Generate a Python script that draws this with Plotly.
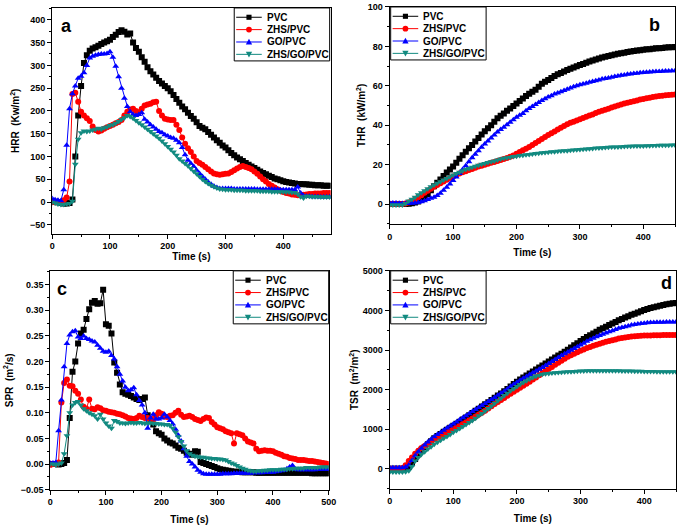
import plotly.graph_objects as go

# ---------------- data ----------------
series_names = ["PVC", "ZHS/PVC", "GO/PVC", "ZHS/GO/PVC"]

# Panel a: HRR (kW/m2), t = 0..480 s every 5 s
t_hrr = list(range(0, 485, 5))
hrr_pvc = [2, 1, 0, -2, -3, -3, -2, 6, 100, 190,
           255, 305, 322, 332, 337, 340, 343, 347, 350, 353,
           356, 362, 367, 373, 377, 374, 368, 370, 350, 338,
           330, 318, 308, 296, 287, 280, 273, 266, 260, 255,
           250, 243, 235, 226, 218, 210, 204, 196, 189, 183,
           175, 167, 163, 160, 154, 148, 142, 136, 130, 124,
           120, 114, 108, 103, 98, 94, 90, 86, 82, 78,
           75, 71, 67, 64, 61, 58, 55, 52, 50, 48,
           46, 44, 43, 42, 41, 40, 40, 39, 39, 38,
           38, 37, 37, 37, 36, 36, 36]
hrr_zhs = [0, 0, -1, 1, 4, 10, 45, 237, 240, 220,
           198, 190, 184, 178, 166, 158, 155, 157, 161, 164,
           167, 170, 173, 176, 180, 190, 198, 203, 205, 200,
           197, 205, 212, 214, 216, 219, 220, 200, 190, 183,
           181, 180, 180, 170, 158, 142, 128, 118, 110, 100,
           90, 86, 82, 77, 72, 67, 63, 61, 60, 61,
           62, 63, 66, 70, 74, 77, 79, 77, 75, 72,
           67, 62, 56, 50, 45, 40, 36, 32, 28, 25,
           22, 20, 19, 17, 16, 15, 15, 16, 17, 18,
           18, 19, 19, 19, 20, 20, 20]
hrr_go = [8, 5, 4, 3, 27, 125, 205, 238, 255, 272,
          276, 284, 300, 316, 320, 322, 324, 325, 325, 326,
          330, 318, 298, 275, 250, 228, 210, 198, 192, 190,
          192, 196, 182, 176, 170, 165, 160, 155, 152, 148,
          145, 142, 140, 136, 130, 120, 104, 92, 85, 78,
          70, 63, 56, 50, 44, 39, 35, 32, 30, 30,
          30, 30, 30, 29, 29, 29, 29, 29, 29, 29,
          29, 28, 28, 28, 28, 28, 28, 28, 28, 27,
          27, 27, 27, 27, 27, 33, 20, 14, 13, 13,
          12, 12, 12, 11, 11, 11, 11]
hrr_zhsgo = [0, -2, -4, -5, -5, -4, -3, 2, 83, 138,
             152, 156, 155, 156, 158, 160, 162, 160, 163, 165,
             168, 170, 173, 177, 181, 185, 190, 188, 184, 179,
             174, 170, 165, 160, 155, 150, 145, 140, 134, 128,
             122, 116, 110, 103, 95, 90, 85, 80, 74, 68,
             62, 56, 50, 45, 41, 37, 34, 31, 29, 28,
             27, 27, 27, 26, 26, 26, 26, 25, 25, 25,
             25, 25, 24, 24, 24, 24, 23, 23, 23, 23,
             22, 22, 22, 21, 21, 18, 12, 9, 13, 13,
             12, 12, 12, 11, 11, 11, 11]

# Panel b: THR (kW/m2), t = 0..450 s every 5 s
t_thr = list(range(0, 455, 5))
thr_pvc = [0, 0, 0, 0, 0, 0, 0.2, 0.4, 0.8, 1.3,
           2, 3.4, 5, 7, 9, 10.8, 12.5, 14.3, 16, 17.5,
           19, 21, 23, 24.8, 26.5, 28.3, 30, 31.8, 33.5, 35.3,
           37, 38.5, 40, 41.8, 43.5, 44.8, 46, 47.3, 48.5, 49.8,
           51, 52.3, 53.5, 54.8, 56, 57, 58, 59.5, 61, 62,
           63, 64, 65, 65.8, 66.5, 67.3, 68, 68.7, 69.3, 69.9,
           70.5, 71.1, 71.7, 72.3, 72.8, 73.3, 73.8, 74.3, 74.7, 75.1,
           75.5, 75.9, 76.2, 76.5, 76.8, 77.1, 77.4, 77.7, 77.9, 78.1,
           78.3, 78.5, 78.6, 78.8, 79, 79.1, 79.2, 79.4, 79.5, 79.6,
           79.7]
thr_zhs = [0, 0, 0, 0, 0, 0.3, 0.8, 1.6, 2.5, 3.5,
           4.5, 5.7, 6.8, 7.8, 8.8, 9.7, 10.5, 11.4, 12.3, 13.2,
           14, 14.8, 15.5, 16.1, 16.7, 17.3, 17.8, 18.4, 19, 19.5,
           20, 20.5, 21, 21.4, 21.8, 22.3, 22.8, 23.4, 24, 24.7,
           25.5, 26.4, 27.3, 28.1, 29, 30, 31, 32, 33, 34,
           35, 35.9, 36.8, 37.8, 38.7, 39.6, 40.5, 41.2, 41.8, 42.4,
           43, 43.7, 44.3, 44.9, 45.5, 46.2, 46.8, 47.3, 47.8, 48.4,
           49, 49.5, 50, 50.5, 51, 51.4, 51.8, 52.2, 52.6, 53,
           53.3, 53.7, 54, 54.3, 54.6, 54.8, 55, 55.2, 55.3, 55.5,
           55.6]
thr_go = [0.5, 0.5, 0.5, 0.4, 0.3, 0.3, 0.3, 0.4, 0.5, 0.8,
          1.2, 1.7, 2.3, 2.9, 3.5, 4.4, 5.5, 7, 8.5, 10.2,
          12, 13.7, 15.5, 17.5, 19.5, 21.5, 23.5, 25.3, 27, 28.8,
          30.5, 32, 33.5, 35, 36.5, 37.8, 39, 40.3, 41.5, 42.8,
          44, 45, 46, 47.3, 48.5, 49.5, 50.5, 51.5, 52.5, 53.4,
          54.3, 55, 55.8, 56.4, 57, 57.6, 58.2, 58.9, 59.5, 60,
          60.5, 60.9, 61.3, 61.8, 62.2, 62.6, 63, 63.4, 63.7, 64,
          64.3, 64.7, 65, 65.3, 65.5, 65.8, 66, 66.2, 66.4, 66.6,
          66.7, 66.9, 67, 67.1, 67.2, 67.3, 67.4, 67.5, 67.5, 67.6,
          67.6]
thr_zhsgo = [-0.5, -0.5, -0.5, -0.5, -0.5, 0.3, 1.5, 2.5, 3.5, 4.7,
             5.8, 6.8, 7.8, 8.8, 9.7, 10.5, 11.3, 12.2, 13, 13.9,
             14.7, 15.5, 16.2, 16.9, 17.5, 18.1, 18.7, 19.2, 19.7, 20.2,
             20.6, 21.1, 21.5, 21.9, 22.3, 22.8, 23.2, 23.5, 23.8, 24.1,
             24.3, 24.6, 24.8, 25, 25.2, 25.4, 25.6, 25.8, 26, 26.2,
             26.3, 26.5, 26.6, 26.8, 26.9, 27, 27.1, 27.3, 27.4, 27.6,
             27.7, 27.8, 27.9, 28.1, 28.2, 28.4, 28.5, 28.6, 28.7, 28.8,
             28.9, 29, 29, 29.1, 29.2, 29.3, 29.3, 29.4, 29.4, 29.5,
             29.5, 29.6, 29.6, 29.7, 29.7, 29.8, 29.8, 29.9, 29.9, 30,
             30]

# Panel c: SPR (m2/s), t = 0..500 s every 5 s
t_spr = list(range(0, 505, 5))
spr_pvc = [0.0, 0.0, 0.0, -0.001, 0.0, 0.002, 0.008, 0.09, 0.18, 0.2,
           0.235, 0.255, 0.262, 0.283, 0.302, 0.315, 0.318, 0.313, 0.314, 0.34,
           0.273, 0.27, 0.255, 0.198, 0.178, 0.155, 0.14, 0.137, 0.135, 0.133,
           0.13, 0.127, 0.125, 0.127, 0.13, 0.095, 0.085, 0.077, 0.064, 0.06,
           0.057, 0.05, 0.046, 0.042, 0.04, 0.036, 0.032, 0.03, 0.026, 0.022,
           0.02, 0.018, 0.025, 0.024, 0.004, 0.002, 0.0, -0.002, -0.004, -0.006,
           -0.008, -0.01, -0.011, -0.012, -0.013, -0.014, -0.015, -0.015, -0.015, -0.016,
           -0.016, -0.016, -0.016, -0.016, -0.017, -0.017, -0.017, -0.017, -0.017, -0.017,
           -0.017, -0.017, -0.017, -0.017, -0.017, -0.017, -0.017, -0.017, -0.017, -0.017,
           -0.017, -0.017, -0.017, -0.017, -0.018, -0.018, -0.018, -0.018, -0.018, -0.018,
           -0.018]
spr_zhs = [-0.002, 0.0, 0.0, 0.003, 0.12, 0.158, 0.165, 0.153, 0.152, 0.143,
           0.137, 0.126, 0.112, 0.108, 0.126, 0.108, 0.107, 0.111, 0.109, 0.105,
           0.104, 0.102, 0.101, 0.1, 0.098, 0.097, 0.095, 0.093, 0.09, 0.089,
           0.088, 0.09, 0.094, 0.092, 0.09, 0.09, 0.088, 0.088, 0.095, 0.101,
           0.098, 0.093, 0.092, 0.094, 0.095, 0.1, 0.104, 0.096, 0.092, 0.093,
           0.094, 0.092, 0.088, 0.086, 0.084, 0.088, 0.091, 0.09, 0.082, 0.077,
           0.072, 0.07, 0.068, 0.064, 0.062, 0.06, 0.04, 0.06, 0.058, 0.056,
           0.05, 0.044, 0.042, 0.04, 0.03, 0.025, 0.026, 0.027, 0.026, 0.026,
           0.025, 0.022, 0.02, 0.018, 0.015, 0.014, 0.012, 0.011, 0.01, 0.008,
           0.008, 0.008, 0.007, 0.006, 0.006, 0.005, 0.004, 0.003, 0.002, 0.001,
           0.0]
spr_go = [0.002, 0.002, 0.003, 0.065, 0.125, 0.19, 0.235, 0.252, 0.258, 0.26,
          0.248, 0.245, 0.25, 0.245, 0.243, 0.24, 0.238, 0.232, 0.226, 0.22,
          0.218, 0.22, 0.212, 0.205, 0.19, 0.175, 0.162, 0.15, 0.143, 0.145,
          0.149, 0.135, 0.124, 0.115, 0.1, 0.07, 0.09, 0.097, 0.088, 0.088,
          0.09, 0.097, 0.092, 0.085, 0.078, 0.068, 0.056, 0.045, 0.03, 0.015,
          0.005, 0.0, -0.006, -0.012, -0.016, -0.019, -0.02, -0.02, -0.02, -0.02,
          -0.02, -0.02, -0.019, -0.019, -0.019, -0.019, -0.018, -0.018, -0.018, -0.018,
          -0.018, -0.018, -0.018, -0.017, -0.017, -0.017, -0.017, -0.016, -0.016, -0.016,
          -0.016, -0.015, -0.014, -0.013, -0.012, -0.009, -0.006, -0.003, -0.01, -0.011,
          -0.011, -0.011, -0.011, -0.011, -0.011, -0.011, -0.01, -0.01, -0.01, -0.01,
          -0.01]
spr_zhsgo = [0.0, 0.0, -0.002, 0.0, 0.002, 0.02, 0.055, 0.1, 0.115, 0.12,
             0.122, 0.115, 0.108, 0.104, 0.1, 0.097, 0.094, 0.088, 0.097, 0.088,
             0.08, 0.074, 0.07, 0.085, 0.083, 0.08, 0.08, 0.079, 0.08, 0.081,
             0.08, 0.08, 0.081, 0.08, 0.079, 0.08, 0.08, 0.079, 0.079, 0.078,
             0.078, 0.077, 0.077, 0.075, 0.07, 0.062, 0.053, 0.044, 0.035, 0.026,
             0.02, 0.017, 0.015, 0.014, 0.013, 0.013, 0.012, 0.012, 0.011, 0.011,
             0.01, 0.01, 0.009, 0.008, 0.005, 0.002, 0.0, -0.003, -0.006, -0.008,
             -0.01, -0.012, -0.013, -0.014, -0.014, -0.013, -0.013, -0.012, -0.012, -0.011,
             -0.011, -0.011, -0.011, -0.01, -0.01, -0.01, -0.009, -0.009, -0.008, -0.008,
             -0.008, -0.008, -0.007, -0.007, -0.007, -0.007, -0.007, -0.006, -0.006, -0.006,
             -0.006]

# Panel d: TSR (m2/m2), t = 0..450 s every 5 s
t_tsr = list(range(0, 455, 5))
tsr_pvc = [0, 0, 0, 0, 0, 10, 50, 140, 250, 370,
           480, 555, 620, 700, 770, 830, 880, 935, 990, 1040,
           1090, 1140, 1190, 1245, 1300, 1355, 1410, 1465, 1520, 1575,
           1630, 1685, 1740, 1795, 1850, 1905, 1960, 2020, 2080, 2140,
           2200, 2255, 2310, 2360, 2410, 2460, 2510, 2560, 2610, 2660,
           2710, 2760, 2810, 2860, 2910, 2960, 3010, 3065, 3120, 3175,
           3230, 3280, 3330, 3375, 3420, 3465, 3510, 3550, 3590, 3630,
           3670, 3710, 3750, 3785, 3820, 3855, 3890, 3920, 3950, 3980,
           4010, 4035, 4060, 4080, 4100, 4120, 4140, 4155, 4170, 4180,
           4190]
tsr_zhs = [0, 0, 0, 0, 20, 90, 200, 290, 380, 460,
           530, 575, 620, 680, 740, 785, 830, 875, 920, 960,
           1000, 1045, 1090, 1135, 1180, 1225, 1270, 1320, 1370, 1420,
           1470, 1525, 1580, 1635, 1690, 1740, 1790, 1845, 1900, 1950,
           2000, 2050, 2100, 2150, 2200, 2255, 2310, 2365, 2420, 2470,
           2520, 2575, 2630, 2680, 2730, 2780, 2830, 2870, 2910, 2945,
           2980, 3015, 3050, 3080, 3110, 3135, 3160, 3185, 3210, 3230,
           3250, 3270, 3290, 3305, 3320, 3330, 3340, 3348, 3355, 3360,
           3365, 3368, 3370, 3372, 3375, 3376, 3378, 3379, 3380, 3380,
           3380]
tsr_go = [30, 30, 30, 30, 30, 50, 100, 210, 330, 430,
          520, 600, 680, 745, 810, 865, 920, 975, 1030, 1080,
          1130, 1185, 1240, 1290, 1340, 1395, 1450, 1500, 1550, 1600,
          1650, 1700, 1750, 1805, 1860, 1910, 1960, 2020, 2080, 2135,
          2190, 2240, 2290, 2335, 2380, 2425, 2470, 2515, 2560, 2610,
          2660, 2710, 2760, 2810, 2860, 2905, 2950, 2995, 3040, 3085,
          3130, 3175, 3220, 3260, 3300, 3335, 3370, 3400, 3430, 3460,
          3490, 3520, 3550, 3570, 3590, 3610, 3630, 3645, 3660, 3670,
          3680, 3688, 3695, 3698, 3700, 3703, 3705, 3708, 3710, 3710,
          3710]
tsr_zhsgo = [-80, -80, -80, -80, -80, -70, -50, 60, 200, 290,
             370, 435, 500, 560, 620, 670, 720, 770, 820, 870,
             925, 970, 1020, 1070, 1120, 1170, 1220, 1280, 1340, 1400,
             1460, 1525, 1590, 1655, 1720, 1785, 1850, 1910, 1970, 2025,
             2080, 2130, 2180, 2225, 2270, 2305, 2340, 2365, 2390, 2400,
             2410, 2420, 2430, 2435, 2440, 2445, 2450, 2455, 2460, 2465,
             2470, 2472, 2475, 2478, 2480, 2480, 2480, 2480, 2480, 2480,
             2480, 2478, 2475, 2472, 2470, 2470, 2470, 2468, 2465, 2462,
             2460, 2460, 2460, 2458, 2455, 2455, 2455, 2452, 2450, 2450,
             2450]

# ---------------- styling ----------------
colors = ["#000000", "#ff0000", "#0000ff", "#128a80"]
symbols = ["square", "circle", "triangle-up", "triangle-down"]
FONT = "Liberation Sans, Arial, sans-serif"
W, H = 685, 528

fig = go.Figure()

panels = [
    ("x", "y", t_hrr, [hrr_pvc, hrr_zhs, hrr_go, hrr_zhsgo], 6),
    ("x2", "y2", t_thr, [thr_pvc, thr_zhs, thr_go, thr_zhsgo], 6),
    ("x3", "y3", t_spr, [spr_pvc, spr_zhs, spr_go, spr_zhsgo], 6),
    ("x4", "y4", t_tsr, [tsr_pvc, tsr_zhs, tsr_go, tsr_zhsgo], 6),
]
for xa, ya, tt, ys, ms in panels:
    for i, yv in enumerate(ys):
        fig.add_trace(go.Scatter(
            x=tt, y=yv, xaxis=xa, yaxis=ya, showlegend=False,
            name=series_names[i], mode="lines+markers",
            line=dict(color=colors[i], width=1),
            marker=dict(symbol=symbols[i], size=ms, color=colors[i],
                        line=dict(width=0)),
        ))


def px_dom(a, b):
    return [a / W, b / W]


def py_dom(top, bottom):
    return [1 - bottom / H, 1 - top / H]


tickfont = dict(family=FONT, size=9, color="black", weight="bold")
titlefont = dict(family=FONT, size=10, color="black", weight="bold")


def xaxis(dom, rng, anchor, dtick, minor, standoff):
    return dict(domain=dom, range=rng, anchor=anchor, dtick=dtick,
                tick0=0, ticks="outside", ticklen=4, tickwidth=1,
                tickcolor="black", showline=True, linecolor="black",
                linewidth=1, mirror=True, showgrid=False, zeroline=False,
                tickfont=tickfont,
                minor=dict(dtick=minor, ticks="outside", ticklen=2,
                           tickcolor="black", showgrid=False),
                title=dict(text="Time (s)", font=titlefont, standoff=standoff))


def yaxis(dom, rng, anchor, dtick, minor, title, standoff, fmt=None, tick0=0):
    d = dict(domain=dom, range=rng, anchor=anchor, dtick=dtick,
             tick0=tick0, ticks="outside", ticklen=4, tickwidth=1,
             tickcolor="black", showline=True, linecolor="black",
             linewidth=1, mirror=True, showgrid=False, zeroline=False,
             tickfont=tickfont,
             minor=dict(dtick=minor, ticks="outside", ticklen=2,
                        tickcolor="black", showgrid=False),
             title=dict(text=title, font=titlefont, standoff=standoff))
    if fmt:
        d["tickformat"] = fmt
    return d


fig.update_layout(
    width=W, height=H,
    margin=dict(l=0, r=0, t=0, b=0),
    paper_bgcolor="white", plot_bgcolor="white",
    showlegend=False,
    xaxis=xaxis(px_dom(50, 333), [0, 482], "y", 100, 50, 0),
    yaxis=yaxis(py_dom(3, 233), [-69, 426], "x", 50, 25,
                "HRR  (Kw/m<sup>2</sup>)", 8, tick0=-50),
    xaxis2=xaxis(px_dom(393, 683), [0, 450], "y2", 100, 50, 8),
    yaxis2=yaxis(py_dom(2, 223), [-10, 100], "x2", 20, 10,
                 "THR  (kW/m<sup>2</sup>)", 0),
    xaxis3=xaxis(px_dom(48, 331), [0, 500], "y3", 100, 50, 9),
    yaxis3=yaxis(py_dom(271, 494), [-0.05, 0.377], "x3", 0.05, 0.025,
                 "SPR  (m<sup>2</sup>/s)", 5, fmt=".2f", tick0=-0.05),
    xaxis4=xaxis(px_dom(393, 684), [0, 450], "y4", 100, 50, 9),
    yaxis4=yaxis(py_dom(271, 493), [-500, 5000], "x4", 1000, 500,
                 "TSR  (m<sup>2</sup>/m<sup>2</sup>)", 2),
)


# ---------- boxed legends (one per panel, Origin style) ----------
def X(px):
    return px / W


def Y(py):
    return 1 - py / H


def add_legend(left, top, width=97, height=54):
    fig.add_shape(type="rect", xref="paper", yref="paper",
                  x0=X(left), x1=X(left + width), y0=Y(top + height), y1=Y(top),
                  line=dict(color="black", width=1), fillcolor="white",
                  layer="above")
    for i, name in enumerate(series_names):
        cy = top + 9.5 + 12.6 * i
        c = colors[i]
        fig.add_shape(type="line", xref="paper", yref="paper",
                      x0=X(left + 2), x1=X(left + 28), y0=Y(cy), y1=Y(cy),
                      line=dict(color=c, width=1), layer="above")
        mx = left + 15
        r = 2.6
        if symbols[i] == "square":
            fig.add_shape(type="rect", xref="paper", yref="paper",
                          x0=X(mx - r), x1=X(mx + r), y0=Y(cy + r), y1=Y(cy - r),
                          line=dict(width=0), fillcolor=c, layer="above")
        elif symbols[i] == "circle":
            fig.add_shape(type="circle", xref="paper", yref="paper",
                          x0=X(mx - r - 0.3), x1=X(mx + r + 0.3),
                          y0=Y(cy + r + 0.3), y1=Y(cy - r - 0.3),
                          line=dict(width=0), fillcolor=c, layer="above")
        else:
            s = 3.2
            if symbols[i] == "triangle-up":
                pts = [(mx, cy - s), (mx + s, cy + s * 0.8), (mx - s, cy + s * 0.8)]
            else:
                pts = [(mx, cy + s), (mx + s, cy - s * 0.8), (mx - s, cy - s * 0.8)]
            path = "M " + " L ".join(f"{X(px):.5f},{Y(py):.5f}" for px, py in pts) + " Z"
            fig.add_shape(type="path", xref="paper", yref="paper", path=path,
                          line=dict(width=0), fillcolor=c, layer="above")
        fig.add_annotation(text=name, x=X(left + 31), y=Y(cy), xref="paper",
                           yref="paper", xanchor="left", yanchor="middle",
                           showarrow=False,
                           font=dict(family=FONT, size=10, color="black",
                                     weight="bold"))


add_legend(235, 3)
add_legend(394, 2)
add_legend(234, 271)
add_legend(394, 271)

for txt, x, y in [("a", 65, 21), ("b", 662, 20), ("c", 60, 289), ("d", 674, 283)]:
    fig.add_annotation(text=txt, x=X(x), y=Y(y), xref="paper",
                       yref="paper", showarrow=False,
                       xanchor="center", yanchor="middle",
                       font=dict(family=FONT, size=18, color="black",
                                 weight="bold"))

fig.write_html(
    "out.html",
    config={"displayModeBar": False},
    post_script="document.body.style.margin='0';document.body.style.overflow='hidden';",
)
